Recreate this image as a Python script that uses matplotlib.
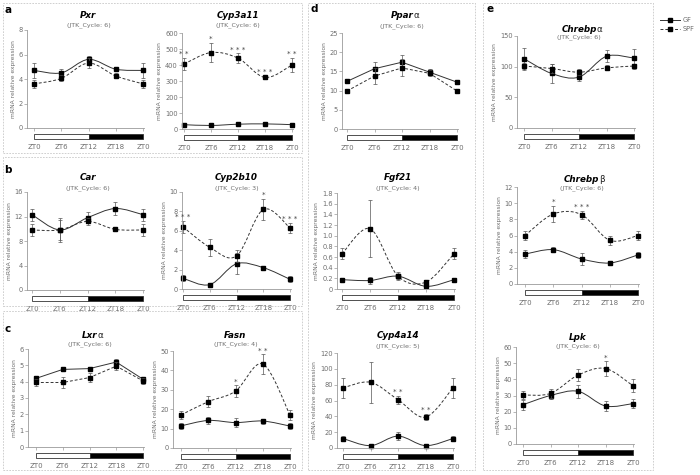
import matplotlib

matplotlib.use("Agg")
import matplotlib.pyplot as plt
import numpy as np
from matplotlib.lines import Line2D
from matplotlib.patches import PathPatch, Rectangle
from matplotlib.path import Path

W, H = 700, 475

ZT = [0, 6, 12, 18, 24]
ZT_LABELS = ["ZT0", "ZT6", "ZT12", "ZT18", "ZT0"]

# ---- data (mean, error) per gene, GF and SPF ----
pxr_gf = [4.7, 4.5, 5.6, 4.8, 4.7]
pxr_gf_err = [0.6, 0.35, 0.3, 0.1, 0.6]
pxr_spf = [3.6, 4.05, 5.3, 4.25, 3.6]
pxr_spf_err = [0.3, 0.25, 0.4, 0.2, 0.3]
pxr_stars = ["", "", "", "", ""]

cyp3a11_gf = [27, 22, 30, 32, 27]
cyp3a11_gf_err = [3, 2, 3, 3, 3]
cyp3a11_spf = [406, 478, 443, 322, 400]
cyp3a11_spf_err = [40, 60, 30, 10, 45]
cyp3a11_stars = ["**", "*", "***", "***", "**"]

car_gf = [12.3, 9.8, 11.8, 13.3, 12.3]
car_gf_err = [1.0, 2.0, 0.9, 1.1, 1.0]
car_spf = [9.8, 9.8, 11.2, 9.9, 9.8]
car_spf_err = [1.0, 1.7, 0.6, 0.3, 1.0]
car_stars = ["", "", "", "", ""]

cyp2b10_gf = [1.1, 0.45, 2.6, 2.2, 1.0]
cyp2b10_gf_err = [0.3, 0.1, 1.1, 0.2, 0.3]
cyp2b10_spf = [6.4, 4.3, 3.4, 8.2, 6.3]
cyp2b10_spf_err = [0.6, 0.9, 0.6, 1.1, 0.5]
cyp2b10_stars = ["***", "", "", "*", "***"]

lxra_gf = [4.2, 4.75, 4.8, 5.2, 4.15]
lxra_gf_err = [0.15, 0.1, 0.1, 0.2, 0.15]
lxra_spf = [3.95, 3.95, 4.25, 4.95, 4.05]
lxra_spf_err = [0.2, 0.35, 0.3, 0.25, 0.2]
lxra_stars = ["", "", "", "", ""]

fasn_gf = [11.4, 14.2, 13.1, 13.9, 11.3]
fasn_gf_err = [1.5, 2.0, 2.5, 1.3, 1.5]
fasn_spf = [17, 23.9, 29.3, 43.3, 17]
fasn_spf_err = [2.2, 3.0, 3.0, 5.0, 2.5]
fasn_stars = ["", "", "*", "**", ""]

ppara_gf = [12.4, 15.7, 17.4, 14.8, 12.2]
ppara_gf_err = [0.5, 1.8, 1.8, 0.8, 0.5]
ppara_spf = [9.9, 13.8, 15.9, 14.5, 9.9]
ppara_spf_err = [0.5, 2.2, 2.2, 0.8, 0.5]
ppara_stars = ["", "", "", "", ""]

fgf21_gf = [0.175, 0.16, 0.24, 0.05, 0.175]
fgf21_gf_err = [0.03, 0.06, 0.05, 0.02, 0.03]
fgf21_spf = [0.66, 1.13, 0.24, 0.13, 0.66]
fgf21_spf_err = [0.1, 0.53, 0.08, 0.04, 0.1]
fgf21_stars = ["", "", "", "", ""]

cyp4a14_gf = [12, 3, 15, 3, 12]
cyp4a14_gf_err = [3, 1, 5, 1, 3]
cyp4a14_spf = [76, 83, 61, 39, 76]
cyp4a14_spf_err = [13, 26, 5, 4, 13]
cyp4a14_stars = ["", "", "**", "**", ""]

chrebpa_gf = [113, 89, 83, 117, 114]
chrebpa_gf_err = [18, 15, 6, 10, 15]
chrebpa_spf = [101, 97, 91, 98, 101]
chrebpa_spf_err = [5, 7, 5, 4, 4]
chrebpa_stars = ["", "", "", "", ""]

chrebpb_gf = [3.7, 4.25, 3.1, 2.6, 3.6]
chrebpb_gf_err = [0.5, 0.3, 0.7, 0.3, 0.4]
chrebpb_spf = [6.0, 8.66, 8.58, 5.4, 6.0]
chrebpb_spf_err = [0.6, 1.0, 0.5, 0.6, 0.5]
chrebpb_stars = ["", "*", "***", "", ""]

lpk_gf = [24.3, 30, 32.6, 23.5, 25]
lpk_gf_err = [3, 2, 4, 3, 3]
lpk_spf = [30.3, 31.3, 42.6, 46.7, 36]
lpk_spf_err = [2.5, 3, 3.5, 4.5, 4]
lpk_stars = ["", "", "", "*", ""]

# name, suffix, jtk, ymax, ystep, gf, gf_err, spf, spf_err, stars, smooth,
# layout px: left, zt0, zt24, top, bottom, title_y, jtk_y
panels = [
    ("Pxr", "", 6, 8, 2, pxr_gf, pxr_gf_err, pxr_spf, pxr_spf_err, pxr_stars, True,
     (27, 34, 143, 30, 128, 15, 25)),
    ("Cyp3a11", "", 6, 600, 100, cyp3a11_gf, cyp3a11_gf_err, cyp3a11_spf, cyp3a11_spf_err,
     cyp3a11_stars, True, (182, 184, 292, 33, 129, 15, 25)),
    ("Car", "", 6, 16, 4, car_gf, car_gf_err, car_spf, car_spf_err, car_stars, True,
     (27, 32, 143, 192, 290, 178, 188)),
    ("Cyp2b10", "", 3, 10, 2, cyp2b10_gf, cyp2b10_gf_err, cyp2b10_spf, cyp2b10_spf_err,
     cyp2b10_stars, True, (182, 183, 290, 192, 289, 178, 188)),
    ("Lxr", "α", 6, 6, 1, lxra_gf, lxra_gf_err, lxra_spf, lxra_spf_err, lxra_stars, False,
     (28, 36, 143, 349, 447, 335, 344)),
    ("Fasn", "", 4, 50, 10, fasn_gf, fasn_gf_err, fasn_spf, fasn_spf_err, fasn_stars, True,
     (173, 181, 290, 351, 448, 335, 344)),
    ("Ppar", "α", 6, 25, 5, ppara_gf, ppara_gf_err, ppara_spf, ppara_spf_err, ppara_stars, False,
     (342, 347, 457, 33, 129, 16, 26)),
    ("Fgf21", "", 4, 1.8, 0.2, fgf21_gf, fgf21_gf_err, fgf21_spf, fgf21_spf_err, fgf21_stars, True,
     (337, 342, 454, 193, 289, 178, 188)),
    ("Cyp4a14", "", 5, 120, 20, cyp4a14_gf, cyp4a14_gf_err, cyp4a14_spf, cyp4a14_spf_err,
     cyp4a14_stars, True, (337, 343, 453, 353, 448, 335, 346)),
    ("Chrebp", "α", 6, 150, 50, chrebpa_gf, chrebpa_gf_err, chrebpa_spf, chrebpa_spf_err,
     chrebpa_stars, True, (517, 524, 634, 36, 128, 29, 37)),
    ("Chrebp", "β", 6, 12, 2, chrebpb_gf, chrebpb_gf_err, chrebpb_spf, chrebpb_spf_err,
     chrebpb_stars, True, (517, 525, 638, 187, 284, 179, 188)),
    ("Lpk", "", 6, 60, 10, lpk_gf, lpk_gf_err, lpk_spf, lpk_spf_err, lpk_stars, True,
     (516, 523, 633, 347, 444, 337, 346)),
]

# panel boxes (px) and letters
boxes = [(3, 3, 302, 153), (3, 157, 302, 306), (3, 311, 302, 470),
         (308, 3, 475, 470), (483, 3, 653, 470)]
letters = [("a", 8, 10), ("b", 8, 170), ("c", 8, 329), ("d", 314, 9), ("e", 490, 9)]

GREY = "#6e6e6e"
AXC = "#9a9a9a"

plt.rcParams["font.family"] = ["DejaVu Sans"]


def smooth_path(x, y):
    pts = np.column_stack([x, y]).astype(float)
    n = len(pts)
    verts = [pts[0]]
    codes = [Path.MOVETO]
    for i in range(n - 1):
        p0 = pts[max(i - 1, 0)]
        p1 = pts[i]
        p2 = pts[i + 1]
        p3 = pts[min(i + 2, n - 1)]
        verts += [p1 + (p2 - p0) / 6, p2 - (p3 - p1) / 6, p2]
        codes += [Path.CURVE4] * 3
    return Path(verts, codes)


def fx(px):
    return px / W


def fy(py):
    return 1 - py / H


fig = plt.figure(figsize=(7, 4.75), dpi=100)

for x0, y0, x1, y1 in boxes:
    fig.add_artist(Rectangle((fx(x0), fy(y1)), (x1 - x0) / W, (y1 - y0) / H,
                             transform=fig.transFigure, fill=False, ec="#c8c8c8",
                             lw=0.6, ls=(0, (2, 1.5))))
for s, x, y in letters:
    fig.text(fx(x), fy(y), s, fontsize=7.5, fontweight="bold", ha="center", va="center")

for (name, suf, jtk, ymax, ystep, gf, gf_err, spf, spf_err, stars, smooth, lay) in panels:
    left, zt0, zt24, top, bot, ty, jy = lay
    pph = (zt24 - zt0) / 24.0
    ax = fig.add_axes([fx(left), fy(bot), (zt24 + 1 - left) / W, (bot - top) / H])
    ax.set_xlim(-(zt0 - left) / pph, 24 + 1 / pph)
    ax.set_ylim(0, ymax)
    for sp in ("top", "right"):
        ax.spines[sp].set_visible(False)
    for sp in ("left", "bottom"):
        ax.spines[sp].set_color(AXC)
        ax.spines[sp].set_linewidth(0.6)

    yt = np.arange(0, ymax + ystep / 2, ystep)
    ax.set_yticks(yt)
    if ystep < 1:
        ax.set_yticklabels(["0" if v == 0 else f"{v:.1f}" for v in yt])
    else:
        ax.set_yticklabels([f"{v:g}" for v in yt])
    ax.set_xticks(ZT)
    ax.set_xticklabels(ZT_LABELS)
    ax.tick_params(axis="y", length=2, width=0.5, color=AXC, labelsize=4.8,
                   labelcolor=GREY, pad=1)
    ax.tick_params(axis="x", length=2, width=0.5, color=AXC, labelsize=5,
                   labelcolor=GREY, pad=9.5)
    ax.set_ylabel("mRNA relative expression", fontsize=4.3, color=GREY, labelpad=2)

    # light / dark bar under the axis
    hpx = bot - top
    tr = ax.get_xaxis_transform()
    ax.add_patch(Rectangle((0, -11 / hpx), 12, 5 / hpx, transform=tr, clip_on=False,
                           fc="white", ec="#333333", lw=0.6))
    ax.add_patch(Rectangle((12, -11 / hpx), 12, 5 / hpx, transform=tr, clip_on=False,
                           fc="black", ec="#333333", lw=0.6))

    for vals, err, ls in ((gf, gf_err, "-"), (spf, spf_err, (0, (3, 2)))):
        if smooth:
            ax.add_patch(PathPatch(smooth_path(ZT, vals), fc="none", ec="#333333",
                                   lw=0.7, ls=ls, clip_on=False))
        else:
            ax.plot(ZT, vals, color="#333333", lw=0.7, ls=ls, clip_on=False)
        ax.errorbar(ZT, vals, yerr=err, fmt="none", ecolor="#555555", elinewidth=0.5,
                    capsize=1.2, capthick=0.5, clip_on=False)
        ax.plot(ZT, vals, "s", ms=2.2, color="black", clip_on=False)

    for i, s in enumerate(stars):
        if s:
            ax.annotate(" ".join(s), xy=(ZT[i], spf[i] + spf_err[i]), xytext=(0, 0.5),
                        textcoords="offset points", ha="center", va="bottom",
                        fontsize=5.2, color="#444444", annotation_clip=False)

    cx = fx((zt0 + zt24) / 2)
    t = fig.text(cx, fy(ty), name, fontsize=6.3, fontweight="bold", style="italic",
                 ha="center", va="center")
    if suf:
        ax.annotate(suf, xy=(1, 0.5), xycoords=t, va="center", ha="left",
                    fontsize=6.3, color="#222222")
    fig.text(cx, fy(jy), f"(JTK_Cycle: {jtk})", fontsize=4.6, color=GREY,
             ha="center", va="center")

# legend drawn by hand at the right edge
legend_items = [("GF", "-", 20), ("SPF", (0, (3, 2)), 29)]
for label, ls, ypx in legend_items:
    fig.add_artist(Line2D([fx(660), fx(680)], [fy(ypx), fy(ypx)], transform=fig.transFigure,
                          color="#333333", lw=0.7, ls=ls))
    fig.add_artist(Line2D([fx(670)], [fy(ypx)], transform=fig.transFigure, marker="s",
                          ms=2.5, color="black", ls="none"))
    fig.text(fx(683), fy(ypx), label, fontsize=4.8, color=GREY, ha="left", va="center")

fig.savefig("out.png", dpi=100)
